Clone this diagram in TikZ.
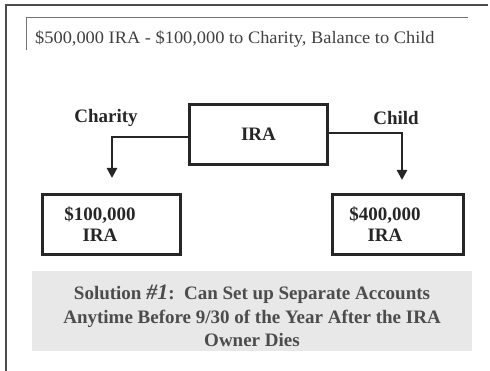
\documentclass[tikz,border=0pt]{standalone}
\usepackage{fontspec}
\setmainfont{Liberation Serif}
\usetikzlibrary{arrows.meta, positioning, calc}

\begin{document}
\begin{tikzpicture}[
    x = 1pt, y = -1pt,
    frame/.style = {line width = 2.4pt, draw = black!70},
    ttl/.style   = {draw = black!55, line width = 0.9pt},
    acct/.style  = {draw = black!85, line width = 3pt,
                    minimum width = 138pt, minimum height = 60pt,
                    inner sep = 0pt},
    lbl/.style   = {font = \fontsize{19}{21.5}\selectfont\bfseries,
                    text = black!85, align = center, inner sep = 0pt},
    note/.style  = {fill = black!9, minimum width = 440pt,
                    minimum height = 80pt, inner sep = 0pt},
    arr/.style   = {-{Triangle[width=10pt, length=10pt]},
                    line width = 2.6pt, draw = black!85},
  ]
    %% -- Bounding box and page frame ---------------------------------
    \useasboundingbox (0,0) rectangle (490,371);
    \draw[frame] (6,371) -- (6,5) -- (488,5);

    %% -- Title ---------------------------------------------------------
    \draw[ttl] (26,50) -- (26,17) -- (468,17);
    \node[anchor = base west, inner sep = 0pt, text = black!75,
          font = \fontsize{17.5}{20}\selectfont\addfontfeature{FakeStretch=1.05}] (title) at (35,44)
      {\$500,000 IRA - \$100,000 to Charity, Balance to Child};

    %% -- Boxes -----------------------------------------------------------
    \node[acct] (ira)   at (258.5,134.5) {};
    \node[acct] (charB) at (111.5,224.5) {};
    \node[acct, minimum width = 131pt] (childB) at (398,224.5) {};

    \node[lbl] (iraT)   at (ira.center)  {IRA};
    \node[lbl] (charT)  at (100,224)     {\$100,000\\IRA};
    \node[lbl] (childT) at (385,224)     {\$400,000\\IRA};

    %% -- Branch labels ---------------------------------------------------
    \node[lbl] (charity) at (106,118) {Charity};
    \node[lbl] (child)   at (396,118) {Child};

    %% -- Arrow tips ------------------------------------------------------
    \coordinate (charTip)  at (112,178);
    \coordinate (childTip) at (402,180);

    \draw[arr] (ira.west |- 0,137) -| (charTip);
    \draw[arr] (ira.east |- 0,133) -| (childTip);

    %% -- Solution note ---------------------------------------------------
    \node[note] (sol) at (252,311) {};
    \node[lbl, text = black!70,
          font = \fontsize{19}{23.5}\selectfont\bfseries] (solT)
      at (252,316)
      {Solution {\itshape\fontsize{22}{23.5}\selectfont\#1}:\ \ Can Set up Separate Accounts\\
       Anytime Before 9/30 of the Year After the IRA\\
       Owner Dies};
\end{tikzpicture}
\end{document}
